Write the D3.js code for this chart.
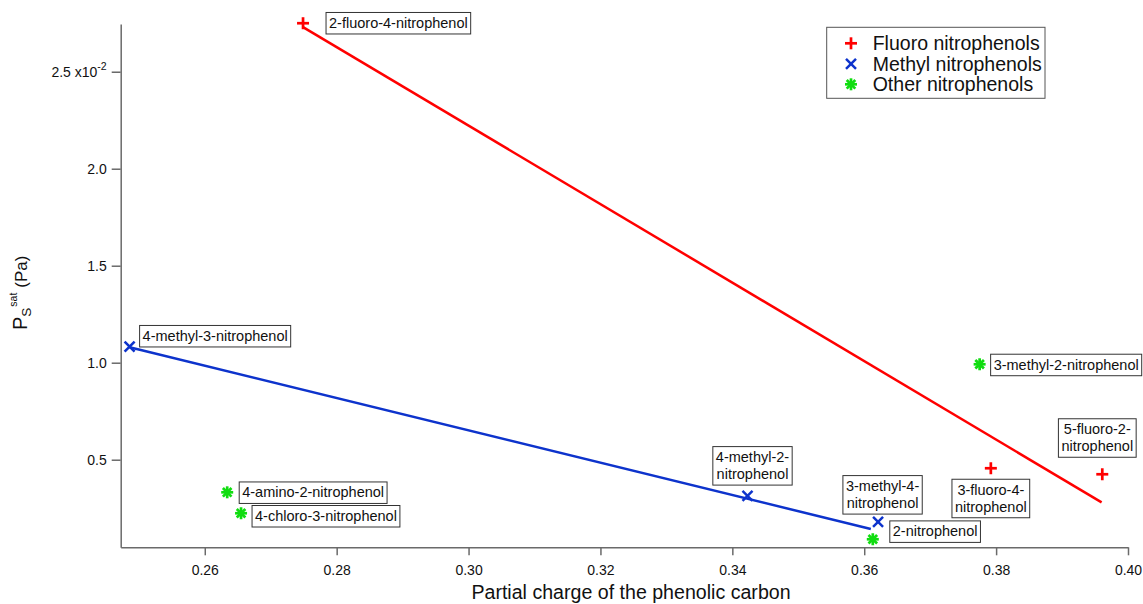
<!DOCTYPE html>
<html>
<head>
<meta charset="utf-8">
<script src="https://cdn.jsdelivr.net/npm/d3@7"></script>
<style>
  body { margin:0; background:#fff; }
  svg { display:block; font-family:"Liberation Sans", Arial, Helvetica, sans-serif; }
</style>
</head>
<body>
<div id="chart"></div>
<script>
// ---- data (Psat in units of 1e-2 Pa) ----
var fluoroNames  = ["2-fluoro-4-nitrophenol", "3-fluoro-4-nitrophenol", "5-fluoro-2-nitrophenol"];
var fluoroCharge = [0.2749, 0.3792, 0.3961];
var fluoroPsat   = [2.75, 0.456, 0.425];

var methylNames  = ["4-methyl-3-nitrophenol", "4-methyl-2-nitrophenol", "3-methyl-4-nitrophenol"];
var methylCharge = [0.2486, 0.3423, 0.3621];
var methylPsat   = [1.0825, 0.314, 0.180];

var otherNames   = ["3-methyl-2-nitrophenol", "4-amino-2-nitrophenol", "4-chloro-3-nitrophenol", "2-nitrophenol"];
var otherCharge  = [0.3775, 0.2634, 0.2655, 0.3613];
var otherPsat    = [0.992, 0.332, 0.224, 0.090];

// fitted lines (end points as drawn)
var fluoroFitCharge = [0.2749, 0.3960];
var fluoroFitPsat   = [2.73, 0.28];
var methylFitCharge = [0.2486, 0.3610];
var methylFitPsat   = [1.08, 0.143];

var xTicks = [0.26, 0.28, 0.30, 0.32, 0.34, 0.36, 0.38, 0.40];
var yTicks = [0.5, 1.0, 1.5, 2.0, 2.5];
var legendLabels = ["Fluoro nitrophenols", "Methyl nitrophenols", "Other nitrophenols"];

// ---- layout ----
var W = 1143, H = 604;
var plot = { left:120.7, right:1128, top:24, bottom:547.3 };

var xScale = d3.scaleLinear().domain([0.24725, 0.40]).range([plot.left, plot.right]);
var yScale = d3.scaleLinear().domain([0.0485, 2.746]).range([plot.bottom, plot.top]);

var RED = "#ff0000", BLUE = "#0d33cc", GREEN = "#10dd10";
var axisCol = "#6a6a6a";

var svg = d3.select("#chart").append("svg").attr("width", W).attr("height", H);

// label placement: side of the point and offsets (px)
var labelPlace = {
  "2-fluoro-4-nitrophenol": { side:"right", dx:23, dy:0 },
  "3-fluoro-4-nitrophenol": { side:"below", dx:0,  dy:11, wrap:true },
  "5-fluoro-2-nitrophenol": { side:"above", dx:-5, dy:17, wrap:true },
  "4-methyl-3-nitrophenol": { side:"right", dx:10, dy:-10.5 },
  "4-methyl-2-nitrophenol": { side:"above", dx:5,  dy:10.7, wrap:true },
  "3-methyl-4-nitrophenol": { side:"above", dx:4.5, dy:7.7, wrap:true },
  "3-methyl-2-nitrophenol": { side:"right", dx:11, dy:0.7 },
  "4-amino-2-nitrophenol":  { side:"right", dx:12, dy:0.4 },
  "4-chloro-3-nitrophenol": { side:"right", dx:11, dy:3 },
  "2-nitrophenol":          { side:"right", dx:17, dy:-7.6 }
};

function zip(names, xs, ys) {
  return names.map(function(n, i) { return { name:n, x:xs[i], y:ys[i] }; });
}
var groups = [
  { key:"fluoro", color:RED,   marker:"plus", pts:zip(fluoroNames, fluoroCharge, fluoroPsat) },
  { key:"methyl", color:BLUE,  marker:"cross", pts:zip(methylNames, methylCharge, methylPsat) },
  { key:"other",  color:GREEN, marker:"star", pts:zip(otherNames, otherCharge, otherPsat) }
];

// ---- axes ----
var xAxis = svg.append("g").attr("transform", "translate(0," + plot.bottom + ")")
  .call(d3.axisBottom(xScale).tickValues(xTicks).tickSize(8).tickSizeOuter(0)
        .tickFormat(d3.format(".2f")));
var yAxis = svg.append("g").attr("transform", "translate(" + plot.left + ",0)")
  .call(d3.axisLeft(yScale).tickValues(yTicks).tickSize(9).tickSizeOuter(0)
        .tickFormat(d3.format(".1f")));

[xAxis, yAxis].forEach(function(ax) {
  ax.select(".domain").attr("stroke", axisCol).attr("stroke-width", 1.5);
  ax.selectAll(".tick line").attr("stroke", axisCol).attr("stroke-width", 1.5);
  ax.selectAll(".tick text").attr("fill", "#111").style("font-size", "14px")
    .style("font-family", "'Liberation Sans', Arial, sans-serif");
});
xAxis.selectAll(".tick text").attr("dy", null).attr("y", 28);
yAxis.selectAll(".tick text").attr("x", -14).attr("dy", "0.35em");

// exponent on the top y tick
yAxis.selectAll(".tick text").filter(function(d) { return d === 2.5; })
  .each(function() {
    var t = d3.select(this).text("");
    t.append("tspan").text("2.5 x10");
    t.append("tspan").text("-2").attr("dy", -7).style("font-size", "10.5px");
  });

// axis titles
svg.append("text")
  .attr("x", 631).attr("y", 599)
  .attr("text-anchor", "middle")
  .style("font-size", "19.6px").attr("fill", "#111")
  .text("Partial charge of the phenolic carbon");

var yt = svg.append("text")
  .attr("transform", "translate(27,330) rotate(-90)")
  .attr("fill", "#111").style("font-size", "20px");
yt.append("tspan").text("P");
yt.append("tspan").text("S").style("font-size", "13.5px").attr("dy", 4);
yt.append("tspan").text("sat").style("font-size", "10.5px").attr("dy", -14).attr("dx", 1);
yt.append("tspan").text("(Pa)").style("font-size", "17px").attr("dy", 10).attr("dx", 5);

// ---- fit lines ----
var line = d3.line().x(function(d) { return xScale(d[0]); }).y(function(d) { return yScale(d[1]); });
svg.append("path").datum(d3.zip(fluoroFitCharge, fluoroFitPsat))
  .attr("d", line).attr("fill", "none").attr("stroke", RED).attr("stroke-width", 2.5);
svg.append("path").datum(d3.zip(methylFitCharge, methylFitPsat))
  .attr("d", line).attr("fill", "none").attr("stroke", BLUE).attr("stroke-width", 2.5);

// ---- markers ----
function drawMarker(g, type, color) {
  var s = 6;
  var segs;
  if (type === "plus") segs = [[-s,0,s,0],[0,-s,0,s]];
  else if (type === "cross") segs = [[-5,-5,5,5],[-5,5,5,-5]];
  else segs = [[-s,0,s,0],[0,-s,0,s],[-4.3,-4.3,4.3,4.3],[-4.3,4.3,4.3,-4.3]];
  segs.forEach(function(q) {
    g.append("line").attr("x1", q[0]).attr("y1", q[1]).attr("x2", q[2]).attr("y2", q[3])
      .attr("stroke", color).attr("stroke-width", type === "cross" ? 2.5 : 2.7);
  });
}

groups.forEach(function(grp) {
  grp.pts.forEach(function(p) {
    var g = svg.append("g")
      .attr("transform", "translate(" + xScale(p.x) + "," + yScale(p.y) + ")");
    drawMarker(g, grp.marker, grp.color);
  });
});

// ---- boxed labels ----
var fs = 14.5, lh = 17, pad = 3;
groups.forEach(function(grp) {
  grp.pts.forEach(function(p) {
    var cfg = labelPlace[p.name];
    var px = xScale(p.x), py = yScale(p.y);
    var lines = cfg.wrap ? [p.name.slice(0, p.name.lastIndexOf("nitrophenol")), "nitrophenol"] : [p.name];
    var g = svg.append("g");
    var rect = g.append("rect").attr("fill", "#fff").attr("stroke", "#333").attr("stroke-width", 1);
    var txt = g.append("text").style("font-size", fs + "px").attr("fill", "#111");
    lines.forEach(function(l, i) {
      txt.append("tspan").attr("x", 0).attr("y", i * lh).text(l);
    });
    var w = 0;
    txt.selectAll("tspan").each(function() { w = Math.max(w, this.getComputedTextLength()); });
    if (cfg.wrap) txt.selectAll("tspan").attr("text-anchor", "middle").attr("x", w / 2);
    var bw = w + 2 * pad, bh = lines.length * lh + 4.5;
    var bx, by;
    if (cfg.side === "right") { bx = px + cfg.dx; by = py + cfg.dy - bh / 2; }
    else if (cfg.side === "above") { bx = px + cfg.dx - bw / 2; by = py - cfg.dy - bh; }
    else { bx = px + cfg.dx - bw / 2; by = py + cfg.dy; }
    rect.attr("x", bx).attr("y", by).attr("width", bw).attr("height", bh);
    txt.attr("transform", "translate(" + (bx + pad) + "," + (by + 15.5) + ")");
  });
});

// ---- legend ----
var leg = svg.append("g").attr("transform", "translate(826.7,27.3)");
leg.append("rect").attr("width", 218.3).attr("height", 71)
  .attr("fill", "#fff").attr("stroke", "#555").attr("stroke-width", 1);
groups.forEach(function(grp, i) {
  var row = leg.append("g").attr("transform", "translate(0," + (16 + i * 20.5) + ")");
  var m = row.append("g").attr("transform", "translate(24.3,0)");
  drawMarker(m, grp.marker, grp.color);
  row.append("text").attr("x", 46).attr("y", 0).attr("dy", "0.36em")
    .style("font-size", "19.5px").attr("fill", "#111").text(legendLabels[i]);
});
</script>
</body>
</html>
